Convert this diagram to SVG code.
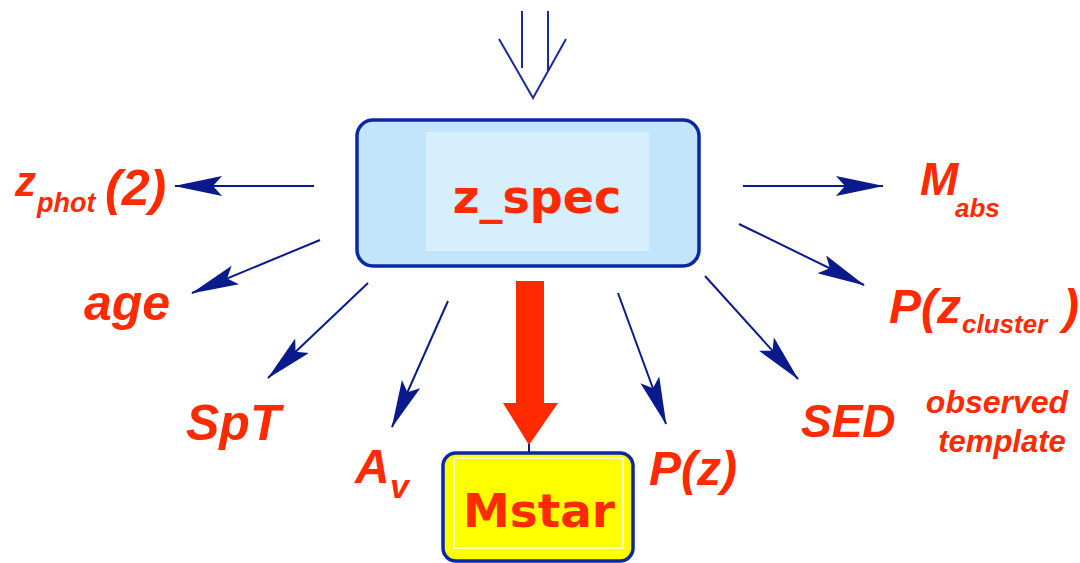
<svg xmlns="http://www.w3.org/2000/svg" width="1080" height="563" viewBox="0 0 1080 563">
<style>
.lbl{font-family:"Liberation Sans",Arial,sans-serif;font-weight:bold;font-style:italic;fill:#ff2a00}
.box{font-family:"DejaVu Sans","Liberation Sans",sans-serif;font-weight:bold;fill:#ff2a00;text-anchor:middle}
.conn{stroke:#0a1a8c;stroke-width:2;fill:none}
</style>
<defs>
<marker id="ah" markerUnits="userSpaceOnUse" markerWidth="50" markerHeight="22" refX="47" refY="10" orient="auto" viewBox="0 0 50 22">
<path d="M48,10 L0,0 L9,10 L0,20 Z" fill="#0a1a8c"/>
</marker>
</defs>
<rect width="1080" height="563" fill="#ffffff"/>
<g id="connectors">
<g id="input-arrow" stroke="#1a2a9a" stroke-width="2" fill="none">
<line x1="522" y1="11" x2="522" y2="68"/>
<line x1="548" y1="11" x2="548" y2="71"/>
<polyline points="499,39 533,98 566,39"/>
</g>
<line class="conn" x1="314" y1="186" x2="175" y2="186" marker-end="url(#ah)"/>
<line class="conn" x1="320" y1="240" x2="192" y2="293" marker-end="url(#ah)"/>
<line class="conn" x1="368" y1="283" x2="268" y2="378" marker-end="url(#ah)"/>
<line class="conn" x1="448" y1="301" x2="392" y2="427" marker-end="url(#ah)"/>
<line class="conn" x1="618" y1="293" x2="666" y2="424" marker-end="url(#ah)"/>
<line class="conn" x1="705" y1="276" x2="798" y2="379" marker-end="url(#ah)"/>
<line class="conn" x1="739" y1="224" x2="864" y2="285" marker-end="url(#ah)"/>
<line class="conn" x1="743" y1="186" x2="883" y2="186" marker-end="url(#ah)"/>
<g id="main-arrow">
<line x1="529" y1="440" x2="529" y2="452" stroke="#0a1a8c" stroke-width="2"/>
<path d="M516,281 H544 V403 H558 L529,445 L503,403 H516 Z" fill="#ff2a00"/>
</g>
</g>
<g id="z_spec">
<rect x="357" y="120" width="342" height="146" rx="16" fill="#c2e5fb" stroke="#0a28a6" stroke-width="3.5"/>
<rect x="426" y="132" width="223" height="119" fill="#d7eefc"/>
<text class="box" x="537" y="213" font-size="46">z_spec</text>
</g>
<g id="Mstar">
<rect x="443" y="453" width="190" height="108" rx="13" fill="#ffff00" stroke="#0a28a6" stroke-width="3.5"/>
<rect x="454" y="458" width="169" height="90" fill="none" stroke="#ffffff" stroke-width="1.5"/>
<text class="box" x="539" y="527" font-size="47">Mstar</text>
</g>
<g id="zphot">
<text class="lbl" x="15" y="196" font-size="42">z</text>
<text class="lbl" x="37" y="212" font-size="27">phot</text>
<text class="lbl" x="105" y="205" font-size="50">(2)</text>
</g>
<g id="age"><text class="lbl" x="84" y="320" font-size="50">age</text></g>
<g id="SpT"><text class="lbl" x="186" y="440" font-size="50">SpT</text></g>
<g id="Av">
<text class="lbl" x="355" y="483" font-size="48">A</text>
<text class="lbl" x="390" y="498" font-size="34">v</text>
</g>
<g id="Pz"><text class="lbl" x="649" y="485" font-size="48">P(z)</text></g>
<g id="SED">
<text class="lbl" x="801" y="437" font-size="46">SED</text>
<text class="lbl" x="997" y="413" font-size="32" text-anchor="middle">observed</text>
<text class="lbl" x="1002" y="452" font-size="31" text-anchor="middle">template</text>
</g>
<g id="Pzcluster">
<text class="lbl" x="889" y="323" font-size="48">P(z</text>
<text class="lbl" x="962" y="333" font-size="26">cluster</text>
<text class="lbl" x="1063" y="323" font-size="48">)</text>
</g>
<g id="Mabs">
<text class="lbl" x="920" y="195" font-size="46">M</text>
<text class="lbl" x="955" y="217" font-size="26">abs</text>
</g>
</svg>
